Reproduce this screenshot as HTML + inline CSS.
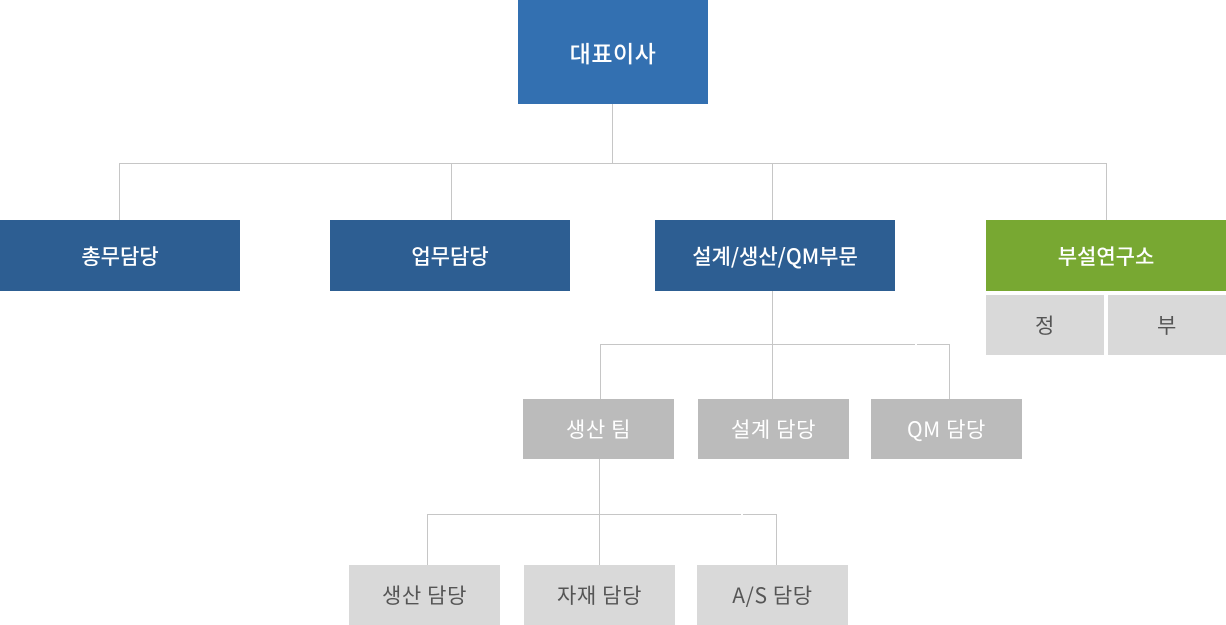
<!DOCTYPE html>
<html>
<head>
<meta charset="utf-8">
<style>
  html,body{margin:0;padding:0;background:#fff;}
  body{width:1226px;height:625px;position:relative;overflow:hidden;
    font-family:"Liberation Sans","Noto Sans CJK KR",sans-serif;}
  .b{position:absolute;display:flex;align-items:center;justify-content:center;
    color:#fff;font-family:"Noto Sans CJK KR","Liberation Sans",sans-serif;font-weight:500;letter-spacing:0;}
  .top{background:#3370b1;font-size:23px;letter-spacing:0.5px;}
  .mid{background:#2d5e92;font-size:21px;}
  .grn{background:#78a832;font-size:21px;}
  .dg{background:#bbbbbb;font-size:21px;font-weight:400;letter-spacing:0.6px;}
  .lg{background:#d9d9d9;color:#555;font-size:21px;font-weight:400;letter-spacing:0.6px;}
  .h{position:absolute;height:1px;background:#c6c6c6;}
  .v{position:absolute;width:1px;background:#c6c6c6;}
  .gap{position:absolute;width:2px;height:1px;background:#fff;}
</style>
</head>
<body>
  <!-- connectors level 1 -->
  <div class="v" style="left:612px;top:104px;height:59px;"></div>
  <div class="h" style="left:119px;top:163px;width:988px;"></div>
  <div class="v" style="left:119px;top:163px;height:57px;"></div>
  <div class="v" style="left:451px;top:163px;height:57px;"></div>
  <div class="v" style="left:772px;top:163px;height:57px;"></div>
  <div class="v" style="left:1106px;top:163px;height:57px;"></div>

  <!-- connectors level 2 -->
  <div class="v" style="left:772px;top:291px;height:108px;"></div>
  <div class="h" style="left:600px;top:344px;width:350px;"></div>
  <div class="gap" style="left:915px;top:344px;"></div>
  <div class="v" style="left:600px;top:344px;height:55px;"></div>
  <div class="v" style="left:949px;top:344px;height:55px;"></div>

  <!-- connectors level 3 -->
  <div class="v" style="left:599px;top:459px;height:106px;"></div>
  <div class="h" style="left:427px;top:514px;width:350px;"></div>
  <div class="gap" style="left:741px;top:514px;"></div>
  <div class="v" style="left:427px;top:514px;height:51px;"></div>
  <div class="v" style="left:776px;top:514px;height:51px;"></div>

  <!-- boxes -->
  <div class="b top" style="left:518px;top:0;width:190px;height:104px;">대표이사</div>

  <div class="b mid" style="left:0;top:220px;width:240px;height:71px;">총무담당</div>
  <div class="b mid" style="left:330px;top:220px;width:240px;height:71px;">업무담당</div>
  <div class="b mid" style="left:655px;top:220px;width:240px;height:71px;">설계/생산/QM부문</div>
  <div class="b grn" style="left:986px;top:220px;width:240px;height:71px;">부설연구소</div>

  <div class="b lg" style="left:986px;top:295px;width:118px;height:60px;">정</div>
  <div class="b lg" style="left:1108px;top:295px;width:118px;height:60px;">부</div>

  <div class="b dg" style="left:523px;top:399px;width:151px;height:60px;">생산 팀</div>
  <div class="b dg" style="left:698px;top:399px;width:151px;height:60px;">설계 담당</div>
  <div class="b dg" style="left:871px;top:399px;width:151px;height:60px;">QM 담당</div>

  <div class="b lg" style="left:349px;top:565px;width:151px;height:60px;">생산 담당</div>
  <div class="b lg" style="left:524px;top:565px;width:151px;height:60px;">자재 담당</div>
  <div class="b lg" style="left:697px;top:565px;width:151px;height:60px;">A/S 담당</div>
</body>
</html>
